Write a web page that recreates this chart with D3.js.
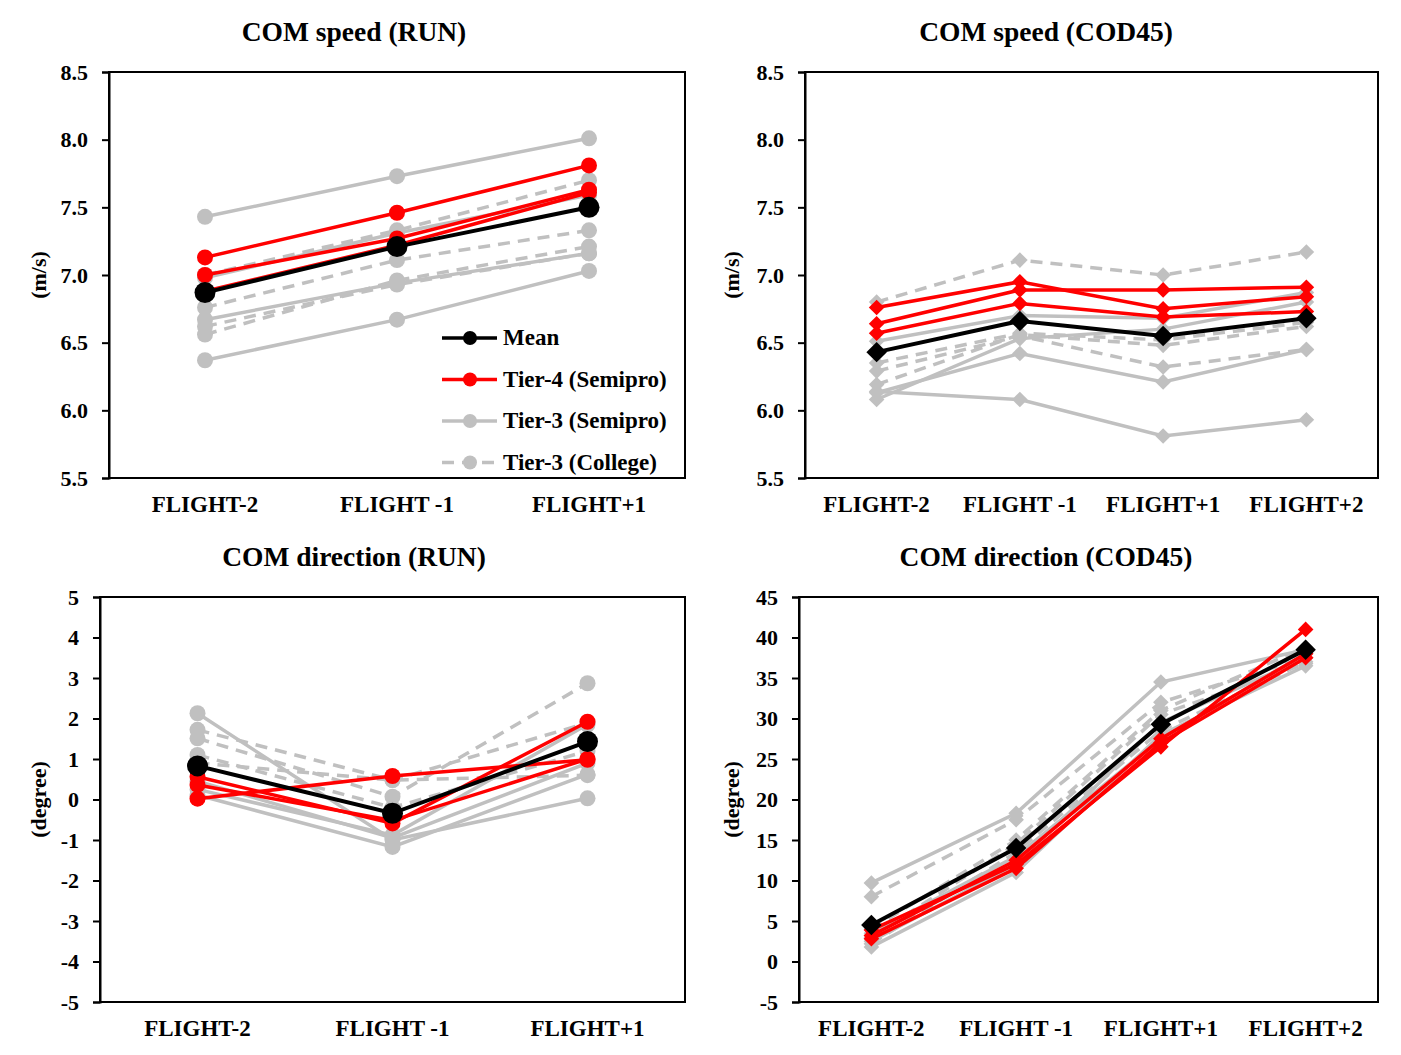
<!DOCTYPE html>
<html>
<head>
<meta charset="utf-8">
<script src="https://cdn.jsdelivr.net/npm/d3@7"></script>
<style>
  body { margin: 0; background: #fff; }
  svg { display: block; }
  svg text { font-family: "Liberation Serif", "Times New Roman", serif; font-weight: bold; fill: #000; }
</style>
</head>
<body>
<script>
// categories
const cats3 = ['FLIGHT-2', 'FLIGHT -1', 'FLIGHT+1'];
const cats4 = ['FLIGHT-2', 'FLIGHT -1', 'FLIGHT+1', 'FLIGHT+2'];

// COM speed (RUN)
const runSpeedMean = [6.87, 7.21, 7.50];
const runSpeedTier4 = [[7.13, 7.46, 7.81], [7.00, 7.27, 7.63], [6.88, 7.22, 7.61]];
const runSpeedTier3Semi = [[7.43, 7.73, 8.01], [6.67, 6.94, 7.16], [6.37, 6.67, 7.03], [6.98, 7.31, 7.59]];
const runSpeedTier3Col = [[7.00, 7.33, 7.70], [6.76, 7.11, 7.33], [6.56, 6.96, 7.21], [6.62, 6.93, 7.16]];

// COM speed (COD45)
const codSpeedMean = [6.43, 6.66, 6.55, 6.68];
const codSpeedTier4 = [[6.76, 6.95, 6.75, 6.84], [6.64, 6.89, 6.89, 6.91], [6.57, 6.79, 6.69, 6.73]];
const codSpeedTier3Semi = [[6.51, 6.70, 6.68, 6.87], [6.13, 6.42, 6.21, 6.45], [6.14, 6.08, 5.81, 5.93], [6.08, 6.53, 6.60, 6.80]];
const codSpeedTier3Col = [[6.80, 7.11, 7.00, 7.17], [6.35, 6.57, 6.52, 6.65], [6.29, 6.55, 6.32, 6.45], [6.19, 6.56, 6.48, 6.62]];

// COM direction (RUN)
const runDirMean = [0.83, -0.34, 1.43];
const runDirTier4 = [[0.02, 0.58, 0.98], [0.56, -0.59, 1.92], [0.36, -0.52, 1.00]];
const runDirTier3Semi = [[2.13, -1.00, 0.03], [0.11, -1.17, 0.62], [0.25, -0.88, 1.85], [0.45, -0.95, 0.90]];
const runDirTier3Col = [[1.51, 0.07, 2.87], [1.72, 0.48, 1.89], [0.90, 0.48, 0.60], [1.10, -0.20, 1.20]];

// COM direction (COD45)
const codDirMean = [4.5, 14.0, 29.3, 38.5];
const codDirTier4 = [[3.9, 12.0, 26.5, 41.0], [3.2, 12.5, 27.5, 38.0], [2.8, 11.5, 27.0, 37.5]];
const codDirTier3Semi = [[9.7, 18.3, 34.5, 38.5], [1.8, 11.0, 28.0, 36.5], [2.5, 12.0, 29.5, 37.5], [3.5, 13.0, 27.5, 38.0]];
const codDirTier3Col = [[8.0, 17.5, 32.0, 37.5], [3.0, 14.5, 30.5, 36.8], [2.2, 13.5, 28.5, 37.0], [4.0, 15.0, 31.0, 38.8]];

const legendNames = ['Mean', 'Tier-4 (Semipro)', 'Tier-3 (Semipro)', 'Tier-3 (College)'];

const RED = '#ff0000', GRAY = '#c0c0c0';
const SERIF = '"Liberation Serif", "Times New Roman", serif';

const svg = d3.select('body').append('svg')
    .attr('width', 1401)
    .attr('height', 1055);

function drawPanel(p) {
    const x = d3.scalePoint().domain(p.cats).range([p.left, p.right]).padding(0.5);
    const y = d3.scaleLinear().domain(p.yDomain).range([p.bottom, p.top]);
    const g = svg.append('g');

    // frame
    g.append('rect')
        .attr('x', p.left).attr('y', p.top)
        .attr('width', p.right - p.left).attr('height', p.bottom - p.top)
        .attr('fill', 'none').attr('stroke', '#000').attr('stroke-width', 2);

    const yAxis = g.append('g')
        .attr('transform', `translate(${p.left},0)`)
        .call(d3.axisLeft(y).tickValues(p.ticks).tickFormat(p.fmt).tickSize(7).tickPadding(14));
    yAxis.attr('font-family', SERIF).attr('font-size', 22);
    yAxis.select('.domain').attr('stroke-width', 2);
    yAxis.selectAll('.tick line').attr('stroke-width', 2);
    yAxis.selectAll('text')
        .style('font-family', SERIF).style('font-weight', 'bold').style('font-size', '22px');

    // category labels
    g.selectAll('.xl').data(p.cats).enter().append('text')
        .attr('x', d => x(d)).attr('y', p.bottom + 34)
        .attr('text-anchor', 'middle').attr('font-size', 23)
        .text(d => d);

    g.append('text')
        .attr('x', p.titleX).attr('y', p.top - 31)
        .attr('text-anchor', 'middle').attr('font-size', 27.5)
        .text(p.title);

    g.append('text')
        .attr('transform', `translate(${p.labelX},${(p.top + p.bottom) / 2}) rotate(-90)`)
        .attr('text-anchor', 'middle').attr('font-size', 22)
        .text(p.yLabel);

    const line = d3.line().x((d, i) => x(p.cats[i])).y(d => y(d));
    const series = [];
    p.col.forEach(s => series.push({ v: s, c: GRAY, dash: '12,8', r: 8 }));
    p.semi.forEach(s => series.push({ v: s, c: GRAY, dash: null, r: 8 }));
    p.tier4.forEach(s => series.push({ v: s, c: RED, dash: null, r: 8 }));
    series.push({ v: p.mean, c: '#000', dash: null, r: 10.5 });

    series.forEach(s => {
        const sg = g.append('g');
        sg.append('path')
            .attr('d', line(s.v))
            .attr('fill', 'none').attr('stroke', s.c)
            .attr('stroke-width', s.c === '#000' ? 4 : 3.5)
            .attr('stroke-dasharray', s.dash);
        const pts = sg.selectAll('.pt').data(s.v).enter();
        if (p.marker === 'circle') {
            pts.append('circle')
                .attr('cx', (d, i) => x(p.cats[i])).attr('cy', d => y(d))
                .attr('r', s.r).attr('fill', s.c);
        } else {
            const sym = d3.symbol().type(d3.symbolSquare).size(s.r * s.r * 1.9);
            pts.append('path')
                .attr('d', sym)
                .attr('transform', (d, i) => `translate(${x(p.cats[i])},${y(d)}) rotate(45)`)
                .attr('fill', s.c);
        }
    });

    if (p.legend) {
        const lg = g.append('g');
        const styles = [
            { c: '#000', dash: null },
            { c: RED, dash: null },
            { c: GRAY, dash: null },
            { c: GRAY, dash: '12,8' }
        ];
        legendNames.forEach((name, i) => {
            const yy = 338 + i * 41.5;
            lg.append('line')
                .attr('x1', 442).attr('x2', 497).attr('y1', yy).attr('y2', yy)
                .attr('stroke', styles[i].c).attr('stroke-width', 3.5)
                .attr('stroke-dasharray', styles[i].dash);
            lg.append('circle').attr('cx', 470).attr('cy', yy).attr('r', 7).attr('fill', styles[i].c);
            lg.append('text')
                .attr('x', 503).attr('y', yy + 7).attr('font-size', 23)
                .text(name);
        });
    }
}

const plain = d => String(d);

drawPanel({
    title: 'COM speed (RUN)', titleX: 354, yLabel: '(m/s)', labelX: 46,
    left: 109, right: 685, top: 72, bottom: 478,
    cats: cats3, yDomain: [5.5, 8.5], ticks: d3.range(5.5, 8.51, 0.5), fmt: d3.format('.1f'),
    mean: runSpeedMean, tier4: runSpeedTier4, semi: runSpeedTier3Semi, col: runSpeedTier3Col,
    marker: 'circle', legend: true
});

drawPanel({
    title: 'COM speed (COD45)', titleX: 1046, yLabel: '(m/s)', labelX: 739,
    left: 805, right: 1378, top: 72, bottom: 478,
    cats: cats4, yDomain: [5.5, 8.5], ticks: d3.range(5.5, 8.51, 0.5), fmt: d3.format('.1f'),
    mean: codSpeedMean, tier4: codSpeedTier4, semi: codSpeedTier3Semi, col: codSpeedTier3Col,
    marker: 'diamond'
});

drawPanel({
    title: 'COM direction (RUN)', titleX: 354, yLabel: '(degree)', labelX: 46,
    left: 100, right: 685, top: 597, bottom: 1002,
    cats: cats3, yDomain: [-5, 5], ticks: d3.range(-5, 5.1, 1), fmt: plain,
    mean: runDirMean, tier4: runDirTier4, semi: runDirTier3Semi, col: runDirTier3Col,
    marker: 'circle'
});

drawPanel({
    title: 'COM direction (COD45)', titleX: 1046, yLabel: '(degree)', labelX: 739,
    left: 799, right: 1378, top: 597, bottom: 1002,
    cats: cats4, yDomain: [-5, 45], ticks: d3.range(-5, 45.1, 5), fmt: plain,
    mean: codDirMean, tier4: codDirTier4, semi: codDirTier3Semi, col: codDirTier3Col,
    marker: 'diamond'
});
</script>
</body>
</html>
